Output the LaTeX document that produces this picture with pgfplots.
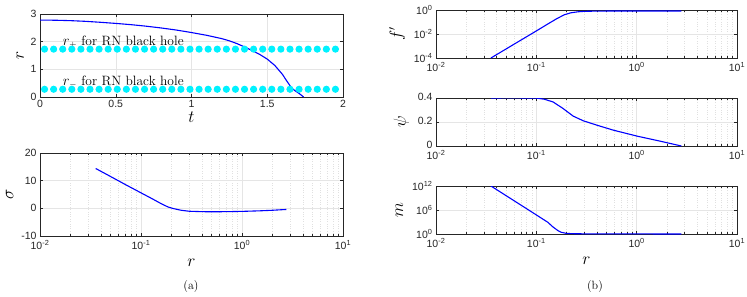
\documentclass[border=0pt]{standalone}
\usepackage{pgfplots}
\pgfplotsset{compat=1.18}
\usepackage{fontspec}
\newfontfamily\ticksans{Liberation Sans}
\definecolor{axgray}{gray}{0.15}
\definecolor{mblue}{rgb}{0,0,1}
\definecolor{mcyan}{rgb}{0,0.95,1}
\pgfplotsset{
  mstyle/.style={
    scale only axis,
    axis line style={axgray, line width=0.5pt},
    tick style={axgray, line width=0.4pt},
    tick align=inside,
    major tick length=3pt,
    minor tick length=1.8pt,
    major grid style={gray!20, line width=0.4pt},
    minor grid style={gray!24, dotted, line width=0.4pt},
    tick label style={font=\ticksans\fontsize{10.5}{11}\selectfont, text=axgray},
    /pgf/number format/assume math mode=true,
    label style={font=\fontsize{16}{17}\selectfont},
    cycle list={{mblue}},
    every axis plot/.append style={line width=1.1pt, no marks},
  },
  mylogx/.style={
    xmin=0.01, xmax=10,
    xtick={0.01,0.1,1,10},
    xticklabels={10\textsuperscript{-2},10\textsuperscript{-1},10\textsuperscript{0},10\textsuperscript{1}},
    minor xtick={0.02,0.03,0.04,0.05,0.06,0.07,0.08,0.09,0.2,0.3,0.4,0.5,0.6,0.7,0.8,0.9,2,3,4,5,6,7,8,9},
    xmajorgrids=true, xminorgrids=true, ymajorgrids=true,
  },
  dashmarks/.style={only marks, mark=-, mark size=3pt, color=mcyan, mark options={line width=1.1pt, color=mcyan, solid}},
}
\begin{document}
\begin{tikzpicture}
\path[use as bounding box] (0,0) rectangle (747pt,-297pt);

% ---------- (a) top: r(t)
\begin{axis}[mstyle, at={(40pt,-14pt)}, anchor=north west,
  width=303pt, height=83pt,
  xmin=0, xmax=2, ymin=0, ymax=3,
  xtick={0,0.5,1,1.5,2}, ytick={0,1,2,3},
  xticklabels={0,0.5,1,1.5,2},
  grid=major,
  xlabel={$t$}, ylabel={$r$},
  xlabel style={yshift=3pt},
  ylabel style={yshift=0pt},
]
\addplot[dashmarks] coordinates {
(0.03,1.73) (0.09,1.73) (0.15,1.73) (0.21,1.73) (0.27,1.73) (0.33,1.73)
(0.39,1.73) (0.45,1.73) (0.51,1.73) (0.57,1.73) (0.63,1.73) (0.69,1.73)
(0.75,1.73) (0.81,1.73) (0.87,1.73) (0.93,1.73) (0.99,1.73) (1.05,1.73)
(1.11,1.73) (1.17,1.73) (1.23,1.73) (1.29,1.73) (1.35,1.73) (1.41,1.73)
(1.47,1.73) (1.53,1.73) (1.59,1.73) (1.65,1.73) (1.71,1.73) (1.77,1.73)
(1.83,1.73) (1.89,1.73) (1.95,1.73)};
\addplot[dashmarks] coordinates {
(0.03,0.28) (0.09,0.28) (0.15,0.28) (0.21,0.28) (0.27,0.28) (0.33,0.28)
(0.39,0.28) (0.45,0.28) (0.51,0.28) (0.57,0.28) (0.63,0.28) (0.69,0.28)
(0.75,0.28) (0.81,0.28) (0.87,0.28) (0.93,0.28) (0.99,0.28) (1.05,0.28)
(1.11,0.28) (1.17,0.28) (1.23,0.28) (1.29,0.28) (1.35,0.28) (1.41,0.28)
(1.47,0.28) (1.53,0.28) (1.59,0.28) (1.65,0.28) (1.71,0.28) (1.77,0.28)
(1.83,0.28) (1.89,0.28) (1.95,0.28)};
\addplot[mblue, line width=1.1pt] coordinates {
(0,2.78) (0.1,2.775) (0.2,2.76) (0.3,2.735) (0.4,2.70) (0.5,2.66)
(0.6,2.615) (0.7,2.56) (0.8,2.495) (0.9,2.42) (1.0,2.33) (1.1,2.23)
(1.2,2.11) (1.25,2.03) (1.3,1.93) (1.35,1.81) (1.4,1.68) (1.45,1.54)
(1.5,1.37) (1.55,1.14) (1.6,0.82) (1.63,0.57) (1.66,0.33) (1.68,0.24)
(1.71,0.13) (1.74,0.0)};
\node[anchor=base west, font=\fontsize{13.5}{14}\selectfont, inner sep=0pt] at (axis cs:0.15,1.86) {$r_+$ for RN black hole};
\node[anchor=base west, font=\fontsize{13.5}{14}\selectfont, inner sep=0pt] at (axis cs:0.15,0.41) {$r_-$ for RN black hole};
\end{axis}

% ---------- (a) bottom: sigma(r)
\begin{axis}[mstyle, xmode=log, mylogx, at={(40pt,-153pt)}, anchor=north west,
  width=303pt, height=83pt,
  ymin=-10, ymax=20, ytick={-10,0,10,20},
  xlabel={$r$}, ylabel={$\sigma$},
  xlabel style={yshift=-2pt},
  ylabel style={yshift=1pt},
  xticklabel style={yshift=-1pt},
]
\addplot coordinates {
(0.0356,14.4) (0.05,11.5) (0.07,8.6) (0.1,5.6) (0.13,3.4) (0.16,1.6)
(0.185,0.5) (0.21,-0.1) (0.25,-0.7) (0.3,-1.05) (0.4,-1.2) (0.5,-1.25)
(0.7,-1.2) (1.0,-1.1) (1.5,-0.9) (2.0,-0.7) (2.75,-0.4)};
\end{axis}
\node[font=\fontsize{12}{13}\selectfont] at (191pt,-287pt) {(a)};

% ---------- (b) top: f'(r)
\begin{axis}[mstyle, xmode=log, ymode=log, mylogx, at={(436pt,-10pt)}, anchor=north west,
  width=301pt, height=48pt,
  ymin=1e-4, ymax=1,
  ytick={1e-4,1e-2,1},
  yticklabels={10\textsuperscript{-4},10\textsuperscript{-2},10\textsuperscript{0}},
  minor ytick={},
  ylabel={$f'$},
  ylabel style={yshift=2pt},
  xticklabel style={yshift=-1pt},
]
\addplot coordinates {
(0.0353,1e-4) (0.05,5.7e-4) (0.07,3.05e-3) (0.1,1.8e-2) (0.13,0.068)
(0.16,0.19) (0.19,0.40) (0.22,0.58) (0.26,0.71) (0.3,0.77) (0.4,0.81)
(0.6,0.825) (1,0.83) (2.79,0.83)};
\end{axis}

% ---------- (b) middle: psi(r)
\begin{axis}[mstyle, xmode=log, mylogx, at={(436pt,-98pt)}, anchor=north west,
  width=301pt, height=48pt,
  ymin=0, ymax=0.4, ytick={0,0.2,0.4},
  yticklabels={0,0.2,0.4},
  ylabel={$\psi$},
  ylabel style={yshift=2pt},
  xticklabel style={yshift=-1pt},
  yticklabel style={yshift=1pt},
]
\addplot coordinates {
(0.0353,0.40) (0.06,0.401) (0.1,0.399) (0.12,0.39) (0.147,0.367)
(0.185,0.312) (0.233,0.249) (0.294,0.21) (0.4,0.174) (0.58,0.133)
(1.0,0.083) (1.7,0.041) (2.79,0.0)};
\end{axis}

% ---------- (b) bottom: m(r)
\begin{axis}[mstyle, xmode=log, ymode=log, mylogx, at={(436pt,-186pt)}, anchor=north west,
  width=301pt, height=48pt,
  ymin=1, ymax=1e12,
  ytick={1,1e6,1e12},
  yticklabels={10\textsuperscript{0},10\textsuperscript{6},10\textsuperscript{12}},
  minor ytick={},
  xlabel={$r$}, ylabel={$m$},
  xlabel style={yshift=-2pt},
  ylabel style={yshift=2pt},
  xticklabel style={yshift=-1pt},
]
\addplot coordinates {
(0.0353,1e12) (0.05,3.8e9) (0.07,1.78e7) (0.1,5.9e4) (0.13,871)
(0.147,53.7) (0.165,6.5) (0.178,2.57) (0.2,1.41) (0.233,1.2)
(0.3,1.1) (1,1.05) (2.79,1.0)};
\end{axis}
\node[font=\fontsize{12}{13}\selectfont] at (595pt,-287pt) {(b)};
\end{tikzpicture}
\end{document}
